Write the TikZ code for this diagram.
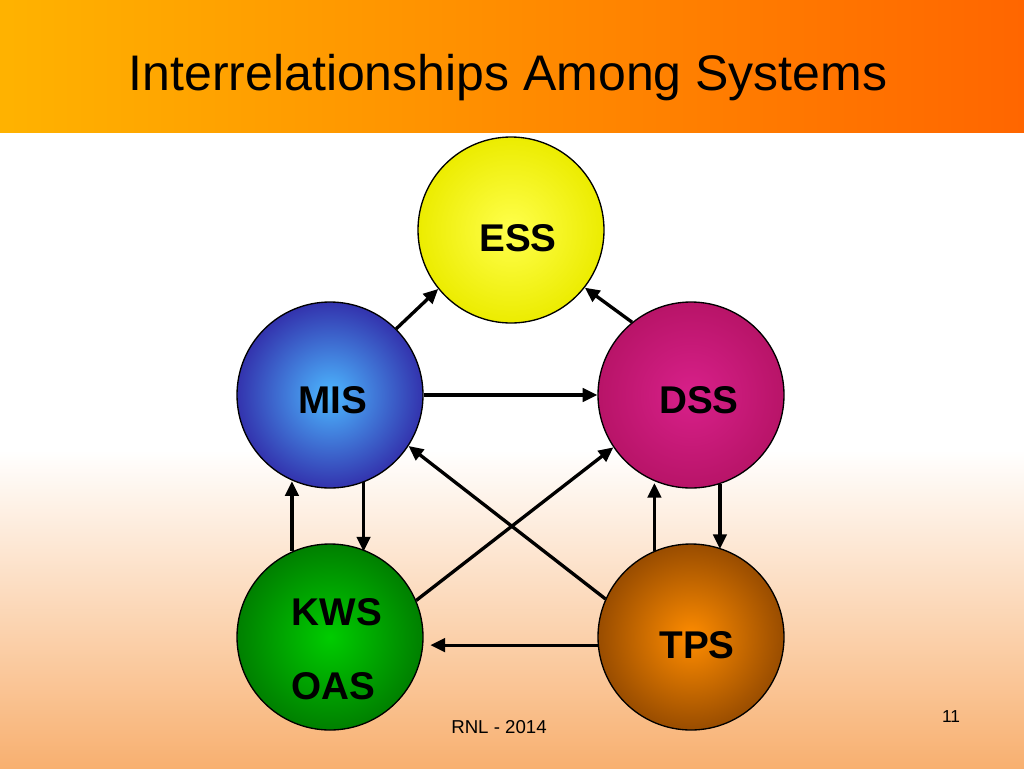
\documentclass[tikz,border=0pt]{standalone}
\usepackage{fontspec}
\setmainfont{Liberation Sans}
\usetikzlibrary{arrows.meta}
\definecolor{dssin}{HTML}{D8208A}
\definecolor{dssout}{HTML}{B81468}
\definecolor{peach}{HTML}{F8B070}
\begin{document}
\begin{tikzpicture}[x=0.75pt,y=-0.75pt,
  sys/.style={circle,draw=black,line width=1pt,minimum size=139.5pt,inner sep=0pt},
  lbl/.style={font=\bfseries\fontsize{29}{31}\selectfont},
  conn/.style={-{Triangle[length=11pt,width=10pt]},line width=2.5pt}]
\useasboundingbox (0,0) rectangle (1024,768);
\fill[white] (0,0) rectangle (1024,768);
\shade[top color=white,bottom color=white] (0,132) rectangle (1024,450);
\shade[top color=white,bottom color=peach] (0,450) rectangle (1024,768);
\shade[left color=orange!60!yellow,right color=orange!80!red] (0,0) rectangle (1024,132);
\node[font=\fontsize{37.5}{40}\selectfont,anchor=west] (title) at (124,78) {Interrelationships Among Systems};
\node[sys,shading=radial,inner color=yellow!70!white,outer color=yellow!85!olive] (ess) at (511,230) {};
\node[sys,shading=radial,inner color=blue!40!cyan!70!white,outer color=blue!60!black!80] (mis) at (330,395) {};
\node[sys,shading=radial,inner color=dssin,outer color=dssout] (dss) at (691,395) {};
\node[sys,shading=radial,inner color=green!80!black,outer color=green!50!black] (kws) at (330,637) {};
\node[sys,shading=radial,inner color=orange!90!yellow,outer color=orange!60!black] (tps) at (691,637) {};
\node[lbl] (tess) at (518,238) {ESS};
\node[lbl] (tmis) at (333,400) {MIS};
\node[lbl] (tdss) at (699,400) {DSS};
\node[lbl] (tkws) at (337,612) {KWS};
\node[lbl] (toas) at (333,686) {OAS};
\node[lbl] (ttps) at (697,645) {TPS};
\node[font=\fontsize{14}{16}\selectfont] (rnl) at (499,727) {RNL - 2014};
\node[font=\fontsize{13}{15}\selectfont] (num) at (951,717) {11};
\draw[conn] (mis.45) -- (ess.219);
\draw[conn] (dss.129) -- (ess.322);
\draw[conn] (mis.east) -- (dss.west);
\draw[conn] (kws.114) -- (kws.114 |- mis.247);
\draw[conn] (mis.291) -- (mis.291 |- kws.66);
\draw[conn] (dss.288) -- (dss.288 |- tps.70);
\draw[conn] (tps.113) -- (tps.113 |- dss.250);
\draw[conn] (tps.156) -- (mis.327);
\draw[conn] (kws.23) -- (dss.214);
\draw[conn,shorten >=5pt] (tps.185) -- (tps.185 -| kws.east);
\end{tikzpicture}
\end{document}
